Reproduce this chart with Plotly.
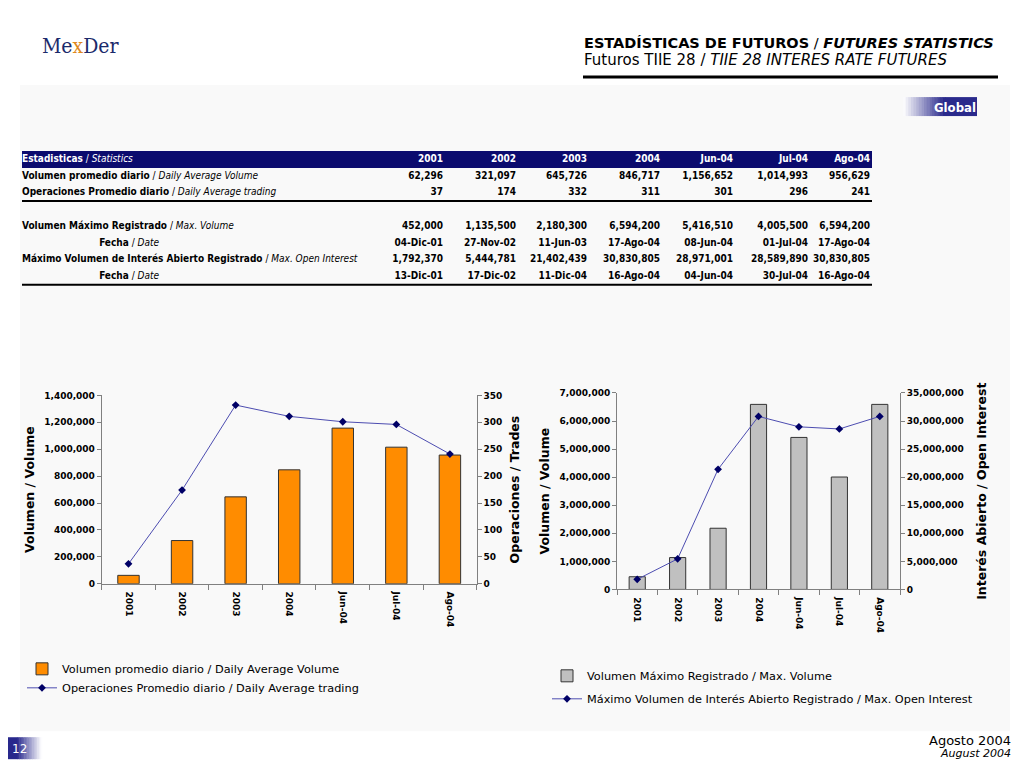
import plotly.graph_objects as go

# ---------------- data ----------------
categories = ["2001", "2002", "2003", "2004", "Jun-04", "Jul-04", "Ago-04"]
daily_avg_volume = [62296, 321097, 645726, 846717, 1156652, 1014993, 956629]
daily_avg_trading = [37, 174, 332, 311, 301, 296, 241]
max_volume = [452000, 1135500, 2180300, 6594200, 5416510, 4005500, 6594200]
max_volume_date = ["04-Dic-01", "27-Nov-02", "11-Jun-03", "17-Ago-04", "08-Jun-04", "01-Jul-04", "17-Ago-04"]
max_open_interest = [1792370, 5444781, 21402439, 30830805, 28971001, 28589890, 30830805]
max_oi_date = ["13-Dic-01", "17-Dic-02", "11-Dic-04", "16-Ago-04", "04-Jun-04", "30-Jul-04", "16-Ago-04"]

table_header_label = "<b>Estadisticas</b> / <i>Statistics</i>"
row_labels = [
    "<b>Volumen promedio diario</b> / <i>Daily Average Volume</i>",
    "<b>Operaciones Promedio diario</b> / <i>Daily Average trading</i>",
    "",
    "<b>Volumen Máximo Registrado</b> / <i>Max. Volume</i>",
    "\u00a0" * 27 + "<b>Fecha</b> / <i>Date</i>",
    "<b>Máximo Volumen de Interés Abierto Registrado</b> / <i>Max. Open Interest</i>",
    "\u00a0" * 27 + "<b>Fecha</b> / <i>Date</i>",
]

# ---------------- page geometry ----------------
OFF_X = 8
TOP_Y, REND_H = 12.8, 743.0
W, H = 1008, 752
def px(x): return (x - OFF_X) / W
def py(y): return 1 - (y - TOP_Y) / REND_H

TABLE_FONT = "DejaVu Sans Condensed, Liberation Sans Narrow, Arial Narrow, sans-serif"
CHART_FONT = "DejaVu Sans, Verdana, sans-serif"

fig = go.Figure()

# ---------------- table (text on a hidden axis pair) ----------------
def fmt(v):
    return f"{v:,}"

value_rows = [
    [fmt(v) for v in daily_avg_volume],
    [str(v) for v in daily_avg_trading],
    [""] * len(categories),
    [fmt(v) for v in max_volume],
    max_volume_date,
    [fmt(v) for v in max_open_interest],
    max_oi_date,
]
col_widths = [348, 73, 73, 71, 73, 73, 75, 62]   # layout: label column + 7 value columns
col_right = []
acc = 0
for w_ in col_widths:
    acc += w_
    col_right.append(acc)
row_index = list(range(1, len(row_labels) + 1))  # header is row 0

text_common = dict(mode="text", xaxis="x3", yaxis="y5", showlegend=False,
                   hoverinfo="skip", cliponaxis=False)
fig.add_trace(go.Scatter(
    x=[0], y=[0], text=[table_header_label], textposition="middle right",
    textfont=dict(family=TABLE_FONT, size=10, color="white"), **text_common))
fig.add_trace(go.Scatter(
    x=[col_right[j + 1] for j in range(len(categories))], y=[0] * len(categories),
    text=categories, textposition="middle left",
    textfont=dict(family=TABLE_FONT, size=10, color="white", weight="bold"), **text_common))
fig.add_trace(go.Scatter(
    x=[0] * len(row_labels), y=row_index, text=row_labels, textposition="middle right",
    textfont=dict(family=TABLE_FONT, size=10, color="black"), **text_common))
for j in range(len(categories)):
    fig.add_trace(go.Scatter(
        x=[col_right[j + 1]] * len(value_rows), y=row_index,
        text=[r[j] for r in value_rows], textposition="middle left",
        textfont=dict(family=TABLE_FONT, size=10, color="black", weight="bold"), **text_common))

# ---------------- left chart ----------------
fig.add_trace(go.Bar(
    x=categories, y=daily_avg_volume, width=0.4,
    name="Volumen promedio diario / Daily Average Volume",
    marker=dict(color="#FF8C00", line=dict(color="#333333", width=1)),
    xaxis="x", yaxis="y", legend="legend", legendgroup="a",
))
fig.add_trace(go.Scatter(
    x=categories, y=daily_avg_trading, mode="lines+markers",
    name="Operaciones Promedio diario / Daily Average trading",
    line=dict(color="#4C4CB0", width=1),
    marker=dict(symbol="diamond", size=6, color="#000066"),
    xaxis="x", yaxis="y2", legend="legend", legendgroup="b",
))

# ---------------- right chart ----------------
fig.add_trace(go.Bar(
    x=categories, y=max_volume, width=0.4,
    name="Volumen Máximo Registrado / Max. Volume",
    marker=dict(color="#C0C0C0", line=dict(color="#333333", width=1)),
    xaxis="x2", yaxis="y3", legend="legend2", legendgroup="c",
))
fig.add_trace(go.Scatter(
    x=categories, y=max_open_interest, mode="lines+markers",
    name="Máximo Volumen de Interés Abierto Registrado / Max. Open Interest",
    line=dict(color="#4C4CB0", width=1),
    marker=dict(symbol="diamond", size=6, color="#000066"),
    xaxis="x2", yaxis="y4", legend="legend2", legendgroup="d",
))

tickfont = dict(family=CHART_FONT, size=9, color="black", weight="bold")
titlefont = dict(family=CHART_FONT, size=12.5, color="black", weight="bold")
axis_common = dict(showgrid=False, zeroline=False, showline=True, linecolor="#808080",
                   ticks="outside", ticklen=4, tickcolor="#808080", tickfont=tickfont)

xcommon = dict(axis_common, type="category", tickangle=90, tickson="boundaries", ticklen=5,
               ticklabelstandoff=5)

legend_common = dict(font=dict(family=CHART_FONT, size=11.3, color="black"),
                     bgcolor="rgba(0,0,0,0)", itemwidth=30, traceorder="grouped",
                     xanchor="left", yanchor="top", itemclick=False)

hidden = dict(visible=False, showgrid=False, zeroline=False, fixedrange=True)

fig.update_layout(
    width=W, height=H, margin=dict(l=0, r=0, t=0, b=0),
    paper_bgcolor="white", plot_bgcolor="rgba(0,0,0,0)",
    xaxis=dict(xcommon, domain=[px(101.7), px(476.7)], anchor="y"),
    yaxis=dict(axis_common, domain=[py(584.3), py(395.7)], anchor="x",
               range=[0, 1400000], dtick=200000, tickformat=",d",
               title=dict(text="Volumen / Volume", font=titlefont, standoff=6)),
    yaxis2=dict(axis_common, overlaying="y", side="right", anchor="x",
                range=[0, 350], dtick=50,
                title=dict(text="Operaciones / Trades", font=titlefont, standoff=8)),
    xaxis2=dict(xcommon, domain=[px(617), px(900)], anchor="y3"),
    yaxis3=dict(axis_common, domain=[py(590), py(393.3)], anchor="x2",
                range=[0, 7000000], dtick=1000000, tickformat=",d",
                title=dict(text="Volumen / Volume", font=titlefont, standoff=7)),
    yaxis4=dict(axis_common, overlaying="y3", side="right", anchor="x2",
                range=[0, 35000000], dtick=5000000, tickformat=",d",
                title=dict(text="Interés Abierto / Open Interest", font=titlefont, standoff=14)),
    xaxis3=dict(hidden, domain=[px(22), px(872)], anchor="y5", range=[0, 850]),
    yaxis5=dict(hidden, domain=[py(285), py(151)], anchor="x3", range=[7.5, -0.5]),
    legend=dict(legend_common, x=px(22), y=py(655), tracegroupgap=0),
    legend2=dict(legend_common, x=px(547), y=py(662), tracegroupgap=4),
    showlegend=True,
)

# ---------------- decorations ----------------
shapes = []
shapes.append(dict(type="rect", xref="paper", yref="paper", x0=px(20), x1=px(1010), y0=py(732), y1=py(85),
                   fillcolor="#F9F9F9", line=dict(width=0), layer="below"))
shapes.append(dict(type="rect", xref="paper", yref="paper", x0=px(22), x1=px(872), y0=py(168), y1=py(151),
                   fillcolor="#0b0b6e", line=dict(width=0), layer="below"))
shapes.append(dict(type="line", xref="paper", yref="paper", x0=px(583), x1=px(998), y0=py(77), y1=py(77),
                   line=dict(color="black", width=3)))
for yy in (201, 285):
    shapes.append(dict(type="line", xref="paper", yref="paper", x0=px(22), x1=px(872), y0=py(yy), y1=py(yy),
                       line=dict(color="black", width=2)))

def gradient(x0, x1, y0, y1, c_from, c_to, n=16):
    out = []
    step = (x1 - x0) / n
    for i in range(n):
        t = i / (n - 1)
        c = tuple(int(round(a + (b - a) * t)) for a, b in zip(c_from, c_to))
        out.append(dict(type="rect", xref="paper", yref="paper",
                        x0=px(x0 + i * step), x1=px(x0 + (i + 1) * step + 0.5),
                        y0=py(y1), y1=py(y0), fillcolor="rgb(%d,%d,%d)" % c, line=dict(width=0)))
    return out

shapes += gradient(903, 945, 97, 116, (250, 250, 252), (42, 42, 140))
shapes.append(dict(type="rect", xref="paper", yref="paper", x0=px(945), x1=px(977), y0=py(116), y1=py(97),
                   fillcolor="rgb(42,42,140)", line=dict(width=0)))
shapes.append(dict(type="rect", xref="paper", yref="paper", x0=px(8), x1=px(16), y0=py(760), y1=py(738),
                   fillcolor="rgb(40,40,140)", line=dict(width=0)))
shapes += gradient(16, 42, 738, 760, (40, 40, 140), (252, 252, 254))
fig.update_layout(shapes=shapes)

ann = []
ann.append(dict(xref="paper", yref="paper", x=px(81), y=py(46), xanchor="center", yanchor="middle",
                showarrow=False,
                text="Me<span style='color:#E08A1E'>x</span>Der",
                font=dict(family="DejaVu Serif Condensed, DejaVu Sans Condensed, sans-serif", size=21, color="#1B2A6B")))
ann.append(dict(xref="paper", yref="paper", x=px(582), y=py(43), xanchor="left", yanchor="middle",
                showarrow=False,
                text="<b>ESTADÍSTICAS DE FUTUROS</b> / <b><i>FUTURES STATISTICS</i></b>",
                font=dict(family=CHART_FONT, size=14.5, color="black")))
ann.append(dict(xref="paper", yref="paper", x=px(582), y=py(60), xanchor="left", yanchor="middle",
                showarrow=False,
                text="Futuros TIIE 28 / <i>TIIE 28 INTERES RATE FUTURES</i>",
                font=dict(family=CHART_FONT, size=15, color="black")))
ann.append(dict(xref="paper", yref="paper", x=px(955), y=py(107), xanchor="center", yanchor="middle",
                showarrow=False, text="<b>Global</b>",
                font=dict(family="DejaVu Sans Condensed, sans-serif", size=13, color="white")))
ann.append(dict(xref="paper", yref="paper", x=px(19), y=py(750), xanchor="center", yanchor="middle",
                showarrow=False, text="12",
                font=dict(family=CHART_FONT, size=12, color="white")))
ann.append(dict(xref="paper", yref="paper", x=px(1013), y=py(741), xanchor="right", yanchor="middle",
                showarrow=False, text="Agosto 2004",
                font=dict(family=CHART_FONT, size=13, color="black")))
ann.append(dict(xref="paper", yref="paper", x=px(1013), y=py(754), xanchor="right", yanchor="middle",
                showarrow=False, text="<i>August 2004</i>",
                font=dict(family=CHART_FONT, size=11, color="black")))
fig.update_layout(annotations=ann)

fig.write_html("out.html")
